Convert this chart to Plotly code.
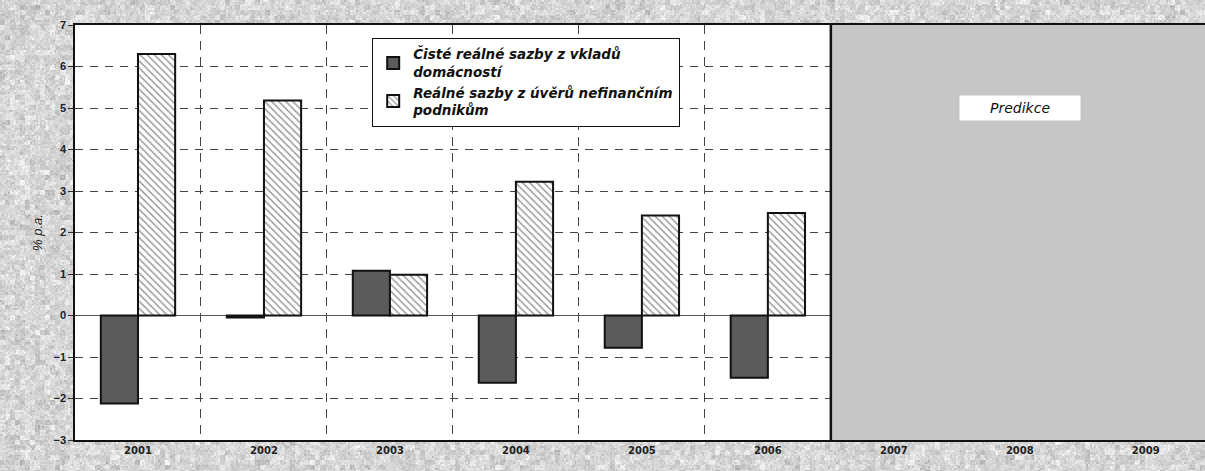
import base64
import struct
import zlib

import numpy as np
import plotly.graph_objects as go

# Categories (years) and real interest rates in % p.a.
years = ["2001", "2002", "2003", "2004", "2005", "2006", "2007", "2008", "2009"]
deposits_households = [-2.12, -0.05, 1.08, -1.62, -0.78, -1.5, None, None, None]
loans_nonfinancial = [6.3, 5.18, 0.98, 3.22, 2.41, 2.47, None, None, None]

name_deposits = "Čisté reálné sazby z vkladů<br>domácností"
name_loans = "Reálné sazby z úvěrů nefinančním<br>podnikům"
forecast_label = "Predikce"
forecast_start = 5.5  # boundary between 2006 and 2007


def paper_texture(width, height, seed=7):
    """Grey speckled paper texture encoded as a PNG data URI."""
    rng = np.random.default_rng(seed)
    blotch = rng.normal(0, 1, (height // 5 + 2, width // 5 + 2))
    blotch = np.kron(blotch, np.ones((5, 5)))[:height, :width]
    speck = rng.normal(0, 1, (height // 2 + 1, width // 2 + 1))
    speck = np.kron(speck, np.ones((2, 2)))[:height, :width]
    img = 214 + 10 * blotch + 8 * speck
    img = np.clip(img, 165, 248).astype(np.uint8)
    raw = b"".join(b"\x00" + img[r].tobytes() for r in range(height))

    def chunk(tag, data):
        body = tag + data
        return struct.pack(">I", len(data)) + body + struct.pack(">I", zlib.crc32(body) & 0xFFFFFFFF)

    png = b"\x89PNG\r\n\x1a\n"
    png += chunk(b"IHDR", struct.pack(">IIBBBBB", width, height, 8, 0, 0, 0, 0))
    png += chunk(b"IDAT", zlib.compress(raw, 9))
    png += chunk(b"IEND", b"")
    return "data:image/png;base64," + base64.b64encode(png).decode()


fig = go.Figure()
fig.add_trace(go.Bar(
    x=years, y=deposits_households, name=name_deposits,
    marker=dict(color="#5b5b5b", line=dict(color="#111111", width=2)),
))
fig.add_trace(go.Bar(
    x=years, y=loans_nonfinancial, name=name_loans,
    marker=dict(
        color="white",
        line=dict(color="#111111", width=2),
        pattern=dict(shape="\\", fgcolor="#3a3a3a", bgcolor="white",
                     size=5, solidity=0.3),
    ),
))

# White plotting surface over the paper texture
fig.add_shape(type="rect", xref="paper", yref="paper", x0=0, x1=1, y0=0, y1=1,
              fillcolor="white", line=dict(width=0), layer="below")

# Forecast period: shaded block covering the gridlines
fig.add_shape(type="rect", xref="x", yref="y",
              x0=forecast_start, x1=9.0, y0=-3, y1=7,
              fillcolor="#c6c6c6", line=dict(width=0), layer="between")
fig.add_shape(type="line", xref="x", yref="y",
              x0=forecast_start, x1=forecast_start, y0=-3, y1=7,
              line=dict(color="#111111", width=2.5), layer="above")

fig.add_annotation(x=7, y=5, xref="x", yref="y", text=forecast_label,
                   showarrow=False, bgcolor="white", width=118, height=22,
                   font=dict(family="DejaVu Sans", size=14, color="#111111",
                             style="italic"))

fig.add_layout_image(
    source=paper_texture(1205, 471),
    xref="paper", yref="paper", x=-75 / 1130, y=1 + 25 / 415,
    sizex=1205 / 1130, sizey=471 / 415, sizing="stretch",
    xanchor="left", yanchor="top", layer="below",
)

fig.update_layout(
    width=1205, height=471,
    margin=dict(l=75, r=0, t=25, b=31),
    paper_bgcolor="#d3d3d3",
    plot_bgcolor="white",
    barmode="group",
    bargap=0.41,
    bargroupgap=0,
    showlegend=True,
    legend=dict(
        x=0.263, y=0.969, xanchor="left", yanchor="top",
        bgcolor="white", bordercolor="#111111", borderwidth=1,
        font=dict(family="DejaVu Sans", size=13.5, color="#111111",
                  style="italic", weight="bold"),
        tracegroupgap=0,
        itemwidth=30,
    ),
)

fig.update_xaxes(
    type="category",
    range=[-0.5, 8.47],
    tickson="boundaries",
    showgrid=True, gridcolor="#444444", gridwidth=1, griddash="9px,7px",
    showline=True, linecolor="#111111", linewidth=1.5, mirror=True,
    ticks="",
    tickfont=dict(family="DejaVu Sans", size=10, color="#222222", weight="bold"),
)
fig.update_yaxes(
    range=[-3, 7],
    dtick=1,
    showgrid=True, gridcolor="#444444", gridwidth=1, griddash="8px,7px",
    zeroline=True, zerolinecolor="#555555", zerolinewidth=1,
    showline=True, linecolor="#111111", linewidth=1.5,
    ticks="outside", ticklen=5, tickcolor="#333333",
    tickfont=dict(family="Liberation Sans", size=11, color="#222222", weight="bold"),
    title=dict(text="% p.a.", standoff=8,
               font=dict(family="Liberation Sans", size=13, color="#222222",
                         style="italic")),
)

fig.write_html("out.html")
